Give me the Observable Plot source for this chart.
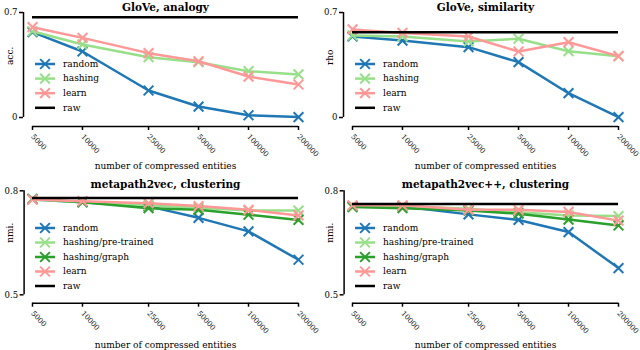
<!DOCTYPE html>
<html><head><meta charset="utf-8">
<script src="https://cdn.jsdelivr.net/npm/d3@7"></script>
<script src="https://cdn.jsdelivr.net/npm/@observablehq/plot@0.6"></script>
<style>
body{margin:0;background:#fff;}
#grid{position:relative;width:640px;height:350px;}
.cell{position:absolute;width:320px;height:175px;}
svg{font-family:"DejaVu Serif";}
</style></head><body><div id="grid"></div>
<script>
const sizes = [5000, 10000, 25000, 50000, 100000, 200000];
const xLabel = "number of compressed entities";

const analogyRandom  = [0.569, 0.44, 0.18, 0.073, 0.015, 0.003];
const analogyHashing = [0.575, 0.487, 0.402, 0.369, 0.309, 0.287];
const analogyLearn   = [0.602, 0.531, 0.429, 0.375, 0.273, 0.22];
const analogyRaw = 0.669;

const simRandom  = [0.54, 0.513, 0.469, 0.369, 0.162, 0.002];
const simHashing = [0.547, 0.54, 0.507, 0.525, 0.442, 0.409];
const simLearn   = [0.587, 0.564, 0.54, 0.44, 0.502, 0.409];
const simRaw = 0.569;

const m2vRandom = [0.775, 0.767, 0.755, 0.722, 0.683, 0.601];
const m2vPre    = [0.775, 0.767, 0.758, 0.751, 0.743, 0.743];
const m2vGraph  = [0.777, 0.767, 0.75, 0.745, 0.731, 0.716];
const m2vLearn  = [0.775, 0.77, 0.764, 0.756, 0.745, 0.729];
const m2vRaw = 0.779;

const m2vppRandom = [0.756, 0.755, 0.732, 0.716, 0.681, 0.577];
const m2vppPre    = [0.756, 0.756, 0.748, 0.738, 0.729, 0.727];
const m2vppGraph  = [0.753, 0.75, 0.743, 0.734, 0.717, 0.70];
const m2vppLearn  = [0.758, 0.758, 0.745, 0.745, 0.739, 0.714];
const m2vppRaw = 0.762;

const C = {random:"#1f77b4", hashing:"#98df8a", graph:"#2ca02c", learn:"#ff9896"};

const panels = [
  {title:"GloVe, analogy", ylabel:"acc.", domain:[0,0.7], raw:analogyRaw, top:true, left:0,
   series:[{name:"random",values:analogyRandom,color:C.random},{name:"hashing",values:analogyHashing,color:C.hashing},{name:"learn",values:analogyLearn,color:C.learn}]},
  {title:"GloVe, similarity", ylabel:"rho", domain:[0,0.7], raw:simRaw, top:true, left:320,
   series:[{name:"random",values:simRandom,color:C.random},{name:"hashing",values:simHashing,color:C.hashing},{name:"learn",values:simLearn,color:C.learn}]},
  {title:"metapath2vec, clustering", ylabel:"nmi.", domain:[0.5,0.8], raw:m2vRaw, top:false, left:0,
   series:[{name:"random",values:m2vRandom,color:C.random},{name:"hashing/pre-trained",values:m2vPre,color:C.hashing},{name:"hashing/graph",values:m2vGraph,color:C.graph},{name:"learn",values:m2vLearn,color:C.learn}]},
  {title:"metapath2vec++, clustering", ylabel:"nmi.", domain:[0.5,0.8], raw:m2vppRaw, top:false, left:320,
   series:[{name:"random",values:m2vppRandom,color:C.random},{name:"hashing/pre-trained",values:m2vppPre,color:C.hashing},{name:"hashing/graph",values:m2vppGraph,color:C.graph},{name:"learn",values:m2vppLearn,color:C.learn}]}
];

const R = 4.5;
function panel(p) {
  const mt = p.top ? 12 : 15.3, mb = p.top ? 58 : 55.7, off = p.top ? 9 : 8.4;
  const seriesMarks = [];
  p.series.forEach(s => {
    const rows = sizes.map((x,i)=>({x, y:s.values[i]}));
    seriesMarks.push(Plot.line(rows, {x:"x", y:"y", stroke:s.color, strokeWidth:2.5}));
    seriesMarks.push(Plot.dot(rows, {x:"x", y:"y", stroke:s.color, symbol:"times", r:R, strokeWidth:2}));
  });
  const svg = Plot.plot({
    width:320, height:175, marginLeft:32, marginRight:22, marginTop:mt, marginBottom:mb,
    style:{fontFamily:"DejaVu Serif", fontSize:"9px", background:"transparent", color:"#000", overflow:"visible"},
    x:{type:"log", domain:[5000,200000]},
    y:{domain:p.domain},
    marks:[
      Plot.ruleX([5000], {y1:p.domain[0], y2:p.domain[1], dx:-off, stroke:"#000", strokeWidth:1.5}),
      Plot.ruleY([p.domain[0]], {x1:5000, x2:200000, dy:off, stroke:"#000", strokeWidth:1.5}),
      Plot.axisY({ticks:p.domain, tickFormat:d=>String(d), dx:-off, tickSize:4, tickPadding:2, label:null, strokeWidth:1.5, fontSize:8.5}),
      Plot.axisX({ticks:sizes, tickFormat:d=>String(d), dy:off, tickSize:4, tickPadding:5, tickRotate:47, label:null, strokeWidth:1.5, fontSize:7.2}),
      ...seriesMarks,
      Plot.ruleY([p.raw], {x1:5000, x2:200000, stroke:"#000", strokeWidth:2.5}),
      Plot.text([p.title], {frameAnchor:"top", lineAnchor:"middle", dy:p.top ? -5 : -6, fontWeight:"bold", fontSize:10.5}),
      Plot.text([p.ylabel], {frameAnchor:"left", dx:-22, rotate:-90, fontSize:9}),
      Plot.text([xLabel], {frameAnchor:"bottom", lineAnchor:"middle", dy:p.top ? 49 : 50.7, fontSize:9})
    ]
  });
  // legend
  const entries = p.series.map(s=>({name:s.name,color:s.color,marker:true})).concat([{name:"raw",color:"#000",marker:false}]);
  const y0 = p.top ? 64 : 53, step = p.top ? 14.6 : 14.5;
  const g = d3.select(svg).append("g").attr("class","legend").attr("text-anchor","start");
  const sym = d3.symbol(d3.symbolTimes, Math.PI*R*R)();
  entries.forEach((e,i)=>{
    const y = y0 + i*step;
    const row = g.append("g").attr("transform",`translate(0,${y})`);
    row.append("line").attr("x1",35).attr("x2",55).attr("y1",0).attr("y2",0).attr("stroke",e.color).attr("stroke-width",2.5);
    if (e.marker) row.append("path").attr("d",sym).attr("transform","translate(45,0)").attr("fill","none").attr("stroke",e.color).attr("stroke-width",2);
    row.append("text").attr("x",63).attr("y",0).attr("dy","0.32em").attr("font-size",9).attr("fill","#000").text(e.name);
  });
  const cell = document.createElement("div");
  cell.className = "cell";
  cell.style.left = p.left + "px";
  cell.style.top = (p.top ? 0 : 175) + "px";
  cell.appendChild(svg);
  document.getElementById("grid").appendChild(cell);
}
panels.forEach(panel);
</script></body></html>
